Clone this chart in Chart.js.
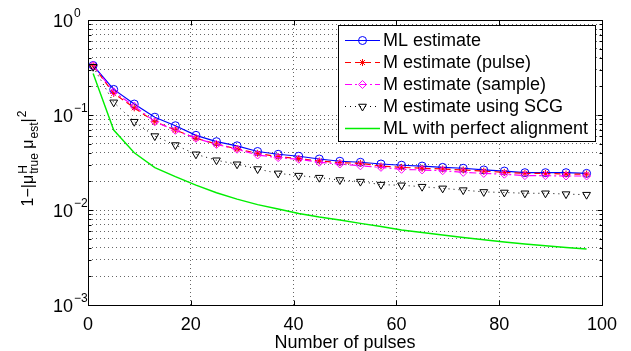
<!DOCTYPE html>
<html>
<head>
<meta charset="utf-8">
<script src="https://cdn.jsdelivr.net/npm/chart.js@4.4.0/dist/chart.umd.min.js"></script>
<style>
    html, body { margin: 0; padding: 0; background: #fff; }
    #wrap { width: 631px; height: 351px; }
</style>
</head>
<body>
<div id="wrap"><canvas id="chart" width="631" height="351"></canvas></div>
<script>
// values (x = number of pulses)
const pulses = [1, 5, 9, 13, 17, 21, 25, 29, 33, 37, 41, 45, 49, 53, 57, 61, 65, 69, 73, 77, 81, 85, 89, 93, 97];
const mlEstimate = [0.332, 0.186, 0.1305, 0.0948, 0.0771, 0.0611, 0.0524, 0.0474, 0.0413, 0.0386, 0.0368, 0.0344, 0.0326,
    0.0318, 0.0305, 0.0296, 0.0290, 0.0281, 0.0275, 0.0264, 0.0257, 0.0247, 0.0247, 0.0247, 0.0243];
const mPulse = [0.330, 0.169, 0.119, 0.085, 0.0695, 0.0569, 0.0495, 0.0439, 0.0395, 0.0364, 0.0347, 0.0328, 0.0315,
    0.0310, 0.0290, 0.0281, 0.0275, 0.0270, 0.0264, 0.0257, 0.0249, 0.0243, 0.0243, 0.0239, 0.0239];
const mSample = [0.332, 0.176, 0.124, 0.085, 0.069, 0.0569, 0.049, 0.0436, 0.0379, 0.0356, 0.0342, 0.0318, 0.0305,
    0.0292, 0.0281, 0.0268, 0.0264, 0.0259, 0.0249, 0.0243, 0.0238, 0.0230, 0.0230, 0.0228, 0.0228];
const mScg = [0.322, 0.136, 0.085, 0.060, 0.0483, 0.0386, 0.0334, 0.0303, 0.0270, 0.0243, 0.0230, 0.0219, 0.0207,
    0.0199, 0.0185, 0.0182, 0.0176, 0.0169, 0.0162, 0.0155, 0.0153, 0.0150, 0.0150, 0.0147, 0.0145];
const mlPerfect = [0.273, 0.0695, 0.040, 0.028, 0.0224, 0.0183, 0.0152, 0.0130, 0.0114, 0.01025, 0.0092, 0.00844, 0.00785,
    0.00724, 0.0067, 0.00616, 0.0058, 0.00545, 0.00514, 0.00486, 0.0046, 0.00439, 0.0042, 0.00403, 0.00389];

const seriesLabels = ["ML estimate", "M estimate (pulse)", "M estimate (sample)", "M estimate using SCG", "ML with perfect alignment"];
const xTicks = [0, 20, 40, 60, 80, 100];
const yExponents = [0, -1, -2, -3];
const xTitle = "Number of pulses";

// every 1..9 x 10^k line of the log grid
const yGridValues = [];
yExponents.slice().reverse().forEach(function (e) {
    for (let m = 1; m <= 9; m++) {
        if (e === 0 && m > 1) break;
        yGridValues.push(m * Math.pow(10, e));
    }
});

function pts(arr) {
    return pulses.map(function (p, i) { return {x: p, y: arr[i]}; });
}

const FONT = '"Liberation Sans", Arial, Helvetica, sans-serif';

function drawMarker(ctx, style, x, y, r, color) {
    ctx.save();
    ctx.strokeStyle = color;
    ctx.lineWidth = 1;
    ctx.setLineDash([]);
    ctx.beginPath();
    if (style === 'circle') {
        ctx.arc(x, y, r, 0, Math.PI * 2);
    } else if (style === 'star') {
        ctx.moveTo(x - r, y); ctx.lineTo(x + r, y);
        ctx.moveTo(x, y - r); ctx.lineTo(x, y + r);
        const d = r * Math.SQRT1_2;
        ctx.moveTo(x - d, y - d); ctx.lineTo(x + d, y + d);
        ctx.moveTo(x - d, y + d); ctx.lineTo(x + d, y - d);
    } else if (style === 'rectRot') {
        ctx.moveTo(x, y - r); ctx.lineTo(x + r, y); ctx.lineTo(x, y + r); ctx.lineTo(x - r, y); ctx.closePath();
    } else if (style === 'triangle') {
        const h = r * Math.sqrt(3) / 2;
        ctx.moveTo(x - h, y - r / 2); ctx.lineTo(x + h, y - r / 2); ctx.lineTo(x, y + r); ctx.closePath();
    }
    ctx.stroke();
    ctx.restore();
}

const matlabAxes = {
    id: 'matlabAxes',
    afterDraw: function (chart) {
        const ctx = chart.ctx;
        const xs = chart.scales.x, ys = chart.scales.y;
        const a = chart.chartArea;
        const L = Math.round(a.left) + 0.5, R = Math.round(a.right) + 0.5;
        const T = Math.round(a.top) + 0.5, B = Math.round(a.bottom) + 0.5;

        ctx.save();
        ctx.strokeStyle = '#000';
        ctx.lineWidth = 1;
        ctx.setLineDash([]);
        ctx.strokeRect(L, T, R - L, B - T);

        // inward ticks
        ctx.beginPath();
        yGridValues.forEach(function (v) {
            const py = Math.round(ys.getPixelForValue(v)) + 0.5;
            const len = Math.abs(Math.log10(v) % 1) < 1e-9 ? 5 : 3;
            ctx.moveTo(L, py); ctx.lineTo(L + len, py);
            ctx.moveTo(R, py); ctx.lineTo(R - len, py);
        });
        xTicks.forEach(function (v) {
            const px = Math.round(xs.getPixelForValue(v)) + 0.5;
            ctx.moveTo(px, B); ctx.lineTo(px, B - 5);
            ctx.moveTo(px, T); ctx.lineTo(px, T + 5);
        });
        ctx.stroke();

        ctx.fillStyle = '#000';
        // x tick labels
        ctx.font = '18px ' + FONT;
        ctx.textAlign = 'center';
        ctx.textBaseline = 'alphabetic';
        xTicks.forEach(function (v) {
            ctx.fillText(String(v), xs.getPixelForValue(v), a.bottom + 25);
        });
        ctx.fillText(xTitle, (a.left + a.right) / 2, a.bottom + 43);

        // y tick labels 10^k
        yExponents.forEach(function (e) {
            const py = ys.getPixelForValue(Math.pow(10, e));
            ctx.font = '18px ' + FONT;
            ctx.textAlign = 'right';
            ctx.fillText('10', 73, py + 7);
            ctx.font = '12px ' + FONT;
            ctx.textAlign = 'left';
            ctx.fillText(e < 0 ? '\u2212' + (-e) : String(e), 74, py - 3);
        });

        // y title: 1-|mu^H_true mu_est|^2
        const big = '16px ' + FONT, small = '12px ' + FONT;
        const parts = [
            {t: '1\u2212|\u03bc', f: big, dy: 0},
            {t: 'H', f: small, dy: -6, stack: true},
            {t: 'true', f: small, dy: 5},
            {t: ' \u03bc', f: big, dy: 0},
            {t: 'est', f: small, dy: 5},
            {t: '|', f: big, dy: 0},
            {t: '2', f: small, dy: -7}
        ];
        let total = 0;
        parts.forEach(function (p) {
            ctx.font = p.f;
            p.w = ctx.measureText(p.t).width;
            if (!p.stack) total += p.w + (p.f === small ? 1 : 0);
        });
        ctx.translate(33, (a.top + a.bottom) / 2 - 4);
        ctx.rotate(-Math.PI / 2);
        ctx.textAlign = 'left';
        let cx = -total / 2;
        parts.forEach(function (p) {
            ctx.font = p.f;
            ctx.fillText(p.t, cx + (p.f === small ? 1 : 0), p.dy);
            if (!p.stack) cx += p.w + (p.f === small ? 1 : 0);
        });
        ctx.restore();

        // legend
        ctx.save();
        const bx = 338.5, by = 25.5, bw = 257, bh = 116;
        ctx.fillStyle = '#fff';
        ctx.fillRect(bx, by, bw, bh);
        ctx.strokeStyle = '#000';
        ctx.lineWidth = 1;
        ctx.strokeRect(bx, by, bw, bh);
        ctx.font = '18px ' + FONT;
        ctx.textAlign = 'left';
        ctx.textBaseline = 'alphabetic';
        chart.data.datasets.forEach(function (ds, i) {
            const ry = 40 + i * 22.1;
            ctx.strokeStyle = ds.borderColor;
            ctx.lineWidth = ds.borderWidth;
            ctx.setLineDash(ds.borderDash || []);
            ctx.beginPath();
            ctx.moveTo(345, Math.round(ry) + 0.5);
            ctx.lineTo(380, Math.round(ry) + 0.5);
            ctx.stroke();
            ctx.setLineDash([]);
            if (ds.pointRadius > 0) {
                drawMarker(ctx, ds.pointStyle, 362.5, Math.round(ry) + 0.5, ds.pointRadius, ds.pointBorderColor);
            }
            ctx.fillStyle = '#000';
            ctx.fillText(ds.label, 383, ry + 6);
        });
        ctx.restore();
    }
};

new Chart(document.getElementById('chart'), {
    type: 'line',
    data: {
        datasets: [
            {
                label: seriesLabels[0],
                data: pts(mlEstimate),
                borderColor: '#0000ff',
                borderWidth: 1.2,
                pointStyle: 'circle',
                pointRadius: 4,
                pointBorderColor: '#0000ff',
                pointBackgroundColor: 'rgba(0,0,0,0)',
                pointBorderWidth: 1,
                order: 5
            },
            {
                label: seriesLabels[1],
                data: pts(mPulse),
                borderColor: '#ff0000',
                borderWidth: 1.2,
                borderDash: [6, 4],
                pointStyle: 'star',
                pointRadius: 3.5,
                pointBorderColor: '#ff0000',
                pointBackgroundColor: 'rgba(0,0,0,0)',
                pointBorderWidth: 1,
                order: 4
            },
            {
                label: seriesLabels[2],
                data: pts(mSample),
                borderColor: '#ff00ff',
                borderWidth: 1.2,
                borderDash: [7, 3, 2, 3],
                pointStyle: 'rectRot',
                pointRadius: 4,
                pointBorderColor: '#ff00ff',
                pointBackgroundColor: 'rgba(0,0,0,0)',
                pointBorderWidth: 1,
                order: 3
            },
            {
                label: seriesLabels[3],
                data: pts(mScg),
                borderColor: '#000000',
                borderWidth: 1,
                borderDash: [1, 4],
                pointStyle: 'triangle',
                pointRotation: 180,
                pointRadius: 4.5,
                pointBorderColor: '#000000',
                pointBackgroundColor: 'rgba(0,0,0,0)',
                pointBorderWidth: 1,
                order: 2
            },
            {
                label: seriesLabels[4],
                data: pts(mlPerfect),
                borderColor: '#00ee00',
                borderWidth: 1.4,
                pointRadius: 0,
                order: 1
            }
        ]
    },
    options: {
        responsive: false,
        animation: false,
        devicePixelRatio: 1,
        layout: {padding: {left: 88, right: 29, top: 20, bottom: 46}},
        plugins: {legend: {display: false}, tooltip: {enabled: false}},
        elements: {line: {tension: 0}},
        scales: {
            x: {
                type: 'linear',
                min: 0,
                max: 100,
                ticks: {display: false, stepSize: 20},
                afterBuildTicks: function (scale) {
                    scale.ticks = xTicks.map(function (v) { return {value: v}; });
                },
                grid: {color: 'rgba(0,0,0,0.6)', lineWidth: 1, drawTicks: false},
                border: {display: false, dash: [1, 3]}
            },
            y: {
                type: 'logarithmic',
                min: 0.001,
                max: 1,
                ticks: {display: false},
                afterBuildTicks: function (scale) {
                    scale.ticks = yGridValues.map(function (v) { return {value: v}; });
                },
                grid: {color: 'rgba(0,0,0,0.6)', lineWidth: 1, drawTicks: false},
                border: {display: false, dash: [1, 3]}
            }
        }
    },
    plugins: [matlabAxes]
});
</script>
</body>
</html>
